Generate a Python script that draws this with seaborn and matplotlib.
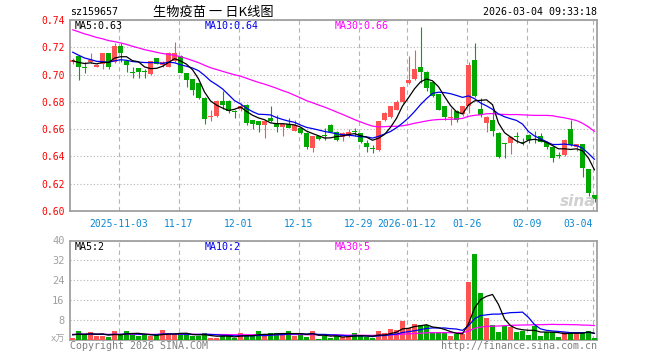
import numpy as np
import pandas as pd
import matplotlib
matplotlib.use("Agg")
import matplotlib.pyplot as plt
import matplotlib.transforms as mtransforms
import seaborn as sns

# ---------------- data ----------------
symbol = "sz159657"
title_text = "生物疫苗 一 日K线图"
timestamp = "2026-03-04 09:33:18"

opens = [
    0.7090, 0.7133, 0.7054, 0.7089, 0.7057, 0.7077, 0.7158, 0.7089, 0.7207, 0.7101,
    0.7017, 0.7047, 0.7022, 0.7002, 0.7121, 0.7072, 0.7059, 0.7096, 0.7138, 0.7010,
    0.6965, 0.6936, 0.6830, 0.6687, 0.6694, 0.6805, 0.6805, 0.6736, 0.6748, 0.6780,
    0.6664, 0.6657, 0.6632, 0.6681, 0.6639, 0.6615, 0.6639, 0.6590, 0.6612, 0.6575,
    0.6459, 0.6550, 0.6551, 0.6632, 0.6582, 0.6540, 0.6550, 0.6584, 0.6570, 0.6496,
    0.6461, 0.6447, 0.6664, 0.6689, 0.6743, 0.6797, 0.6936, 0.6965, 0.7057, 0.7020,
    0.6946, 0.6854, 0.6768, 0.6681, 0.6736, 0.6713, 0.6768, 0.7109, 0.6751, 0.6644,
    0.6664, 0.6575, 0.6492, 0.6501, 0.6547, 0.6503, 0.6558, 0.6523, 0.6550, 0.6508,
    0.6471, 0.6404, 0.6410, 0.6600, 0.6466, 0.6490, 0.6308, 0.6117]
closes = [
    0.7106, 0.7059, 0.7050, 0.7106, 0.7072, 0.7158, 0.7059, 0.7207, 0.7158, 0.7072,
    0.7013, 0.7020, 0.7018, 0.7096, 0.7081, 0.7089, 0.7158, 0.7158, 0.7015, 0.6960,
    0.6886, 0.6825, 0.6674, 0.6690, 0.6805, 0.6780, 0.6731, 0.6723, 0.6773, 0.6644,
    0.6639, 0.6632, 0.6657, 0.6657, 0.6615, 0.6639, 0.6612, 0.6632, 0.6575, 0.6471,
    0.6550, 0.6530, 0.6548, 0.6582, 0.6521, 0.6570, 0.6582, 0.6580, 0.6508, 0.6466,
    0.6457, 0.6657, 0.6718, 0.6768, 0.6797, 0.6911, 0.6960, 0.7044, 0.7020, 0.6904,
    0.6842, 0.6743, 0.6689, 0.6689, 0.6669, 0.6768, 0.7069, 0.6842, 0.6706, 0.6689,
    0.6590, 0.6397, 0.6490, 0.6545, 0.6543, 0.6499, 0.6521, 0.6519, 0.6508, 0.6466,
    0.6385, 0.6400, 0.6521, 0.6484, 0.6489, 0.6313, 0.6130, 0.6088]
highs = [
    0.7125, 0.7137, 0.7089, 0.7158, 0.7078, 0.7160, 0.7160, 0.7232, 0.7232, 0.7105,
    0.7059, 0.7050, 0.7044, 0.7100, 0.7125, 0.7096, 0.7168, 0.7242, 0.7142, 0.7013,
    0.6968, 0.6940, 0.6833, 0.6743, 0.6810, 0.6879, 0.6810, 0.6740, 0.6788, 0.6785,
    0.6668, 0.6660, 0.6660, 0.6768, 0.6706, 0.6642, 0.6681, 0.6664, 0.6615, 0.6578,
    0.6553, 0.6553, 0.6607, 0.6636, 0.6586, 0.6582, 0.6600, 0.6607, 0.6574, 0.6521,
    0.6484, 0.6662, 0.6722, 0.6772, 0.6812, 0.6915, 0.7138, 0.7183, 0.7350, 0.7025,
    0.6950, 0.6858, 0.6772, 0.6755, 0.6740, 0.6772, 0.7089, 0.7235, 0.6830, 0.6693,
    0.6743, 0.6580, 0.6495, 0.6548, 0.6582, 0.6533, 0.6562, 0.6590, 0.6575, 0.6516,
    0.6475, 0.6434, 0.6525, 0.6669, 0.6492, 0.6493, 0.6310, 0.6120]
lows = [
    0.7075, 0.6961, 0.7015, 0.7085, 0.7052, 0.7044, 0.7044, 0.7084, 0.7089, 0.7020,
    0.6973, 0.6973, 0.6978, 0.6998, 0.7078, 0.7052, 0.7055, 0.7090, 0.7010, 0.6911,
    0.6849, 0.6820, 0.6640, 0.6657, 0.6690, 0.6748, 0.6718, 0.6681, 0.6736, 0.6632,
    0.6602, 0.6582, 0.6538, 0.6652, 0.6582, 0.6550, 0.6608, 0.6586, 0.6565, 0.6454,
    0.6434, 0.6521, 0.6521, 0.6578, 0.6516, 0.6513, 0.6546, 0.6550, 0.6496, 0.6434,
    0.6422, 0.6443, 0.6660, 0.6685, 0.6740, 0.6793, 0.6932, 0.6960, 0.6941, 0.6879,
    0.6838, 0.6738, 0.6669, 0.6632, 0.6649, 0.6699, 0.6720, 0.6838, 0.6689, 0.6582,
    0.6550, 0.6385, 0.6385, 0.6417, 0.6496, 0.6484, 0.6496, 0.6496, 0.6504, 0.6452,
    0.6360, 0.6385, 0.6405, 0.6480, 0.6442, 0.6250, 0.6110, 0.6068]
volumes = [
    0.9, 3.6, 2.3, 3.2, 1.6, 1.6, 1.2, 3.6, 2.4, 3.6,
    2.3, 1.5, 2.0, 1.5, 2.0, 4.0, 2.3, 2.3, 2.7, 2.3,
    1.5, 1.6, 2.7, 0.9, 0.9, 1.7, 1.7, 0.9, 2.7, 1.7,
    1.7, 3.6, 1.7, 2.7, 2.7, 2.3, 3.6, 1.6, 2.7, 1.2,
    3.6, 0.4, 1.7, 0.9, 1.7, 1.3, 1.3, 2.7, 1.6, 1.2,
    0.9, 3.6, 2.8, 4.4, 4.0, 7.6, 4.7, 6.4, 6.0, 6.0,
    3.1, 3.1, 3.1, 1.6, 2.4, 2.3, 23.3, 34.4, 18.9, 8.9,
    6.0, 3.1, 5.6, 5.1, 3.1, 3.7, 2.0, 5.6, 1.6, 3.1,
    3.3, 1.2, 3.3, 2.7, 3.1, 3.3, 3.6, 0.9]

# sessions before the visible window (estimated from where the MA lines start)
lead_in_closes = [0.749, 0.752, 0.747, 0.750, 0.745, 0.746, 0.743, 0.744, 0.741, 0.742,
                  0.738, 0.740, 0.737, 0.739, 0.735, 0.736, 0.734, 0.735,
                  0.735, 0.733, 0.728, 0.726, 0.722, 0.720, 0.718, 0.712, 0.709, 0.708, 0.711]
lead_in_volumes = [2.4, 2.1, 2.6, 2.2, 2.5, 1.9, 2.3, 2.7, 2.0, 2.4, 2.2, 2.6, 2.1, 2.3, 2.5,
                   2.0, 2.4, 2.2, 2.6, 2.3, 2.1, 2.5, 2.2, 2.4, 2.0, 2.3, 2.6, 2.2, 2.4]

date_tick_index = [8, 18, 28, 38, 48, 56, 66, 76, 87]
date_tick_labels = ["2025-11-03", "11-17", "12-01", "12-15", "12-29",
                    "2026-01-12", "01-26", "02-09", "03-04"]
price_ticks = [0.60, 0.62, 0.64, 0.66, 0.68, 0.70, 0.72, 0.74]
volume_ticks = [8, 16, 24, 32, 40]

# ---------------- style ----------------
RED = "#ff5252"
GREEN = "#00a800"
GRID = "#b4b4b4"
SPINE = "#a0a0a0"
MONO = ["DejaVu Sans Mono", "Noto Sans CJK SC"]

sns.set_style("white")
plt.rcParams["font.family"] = MONO

W, H = 660, 360
fig = plt.figure(figsize=(W / 100, H / 100), dpi=100)
L, R = 70, 597
ax = fig.add_axes([L / W, 1 - 211 / H, (R - L) / W, 191 / H])
axv = fig.add_axes([L / W, 1 - 340 / H, (R - L) / W, 99.5 / H])

o = np.array(opens); c = np.array(closes); hi = np.array(highs); lo = np.array(lows)
v = np.array(volumes)
n = len(o)
x = np.arange(n)
up = c >= o
cols = np.where(up, RED, GREEN)

def ma(lead, vals, k):
    s = pd.Series(list(lead) + list(vals))
    return s.rolling(k).mean().to_numpy()[len(lead):]

pm5, pm10, pm30 = ma(lead_in_closes, c, 5), ma(lead_in_closes, c, 10), ma(lead_in_closes, c, 30)
vm5, vm10, vm30 = ma(lead_in_volumes, v, 5), ma(lead_in_volumes, v, 10), ma(lead_in_volumes, v, 30)

# candles
ax.vlines(x, lo, hi, colors=cols, lw=0.8, zorder=3)
ax.bar(x, np.maximum(np.abs(c - o), 0.0007), bottom=np.minimum(o, c), width=0.8,
       color=cols, linewidth=0, zorder=3)

line_df = pd.DataFrame({"x": x, "ma5": pm5, "ma10": pm10, "ma30": pm30,
                        "v5": vm5, "v10": vm10, "v30": vm30})
sns.lineplot(data=line_df, x="x", y="ma30", color="#ff00ff", lw=0.9, ax=ax, zorder=4)
sns.lineplot(data=line_df, x="x", y="ma10", color="#0000ee", lw=0.9, ax=ax, zorder=4)
sns.lineplot(data=line_df, x="x", y="ma5", color="black", lw=0.9, ax=ax, zorder=4)

# volume bars
vdf = pd.DataFrame({"x": x, "vol": v, "dir": np.where(up, "up", "down")})
sns.barplot(data=vdf, x="x", y="vol", hue="dir", palette={"up": RED, "down": GREEN},
            native_scale=True, dodge=False, width=0.8, errorbar=None, legend=False,
            saturation=1, linewidth=0, ax=axv, zorder=3)
sns.lineplot(data=line_df, x="x", y="v30", color="#ff00ff", lw=0.9, ax=axv, zorder=4)
sns.lineplot(data=line_df, x="x", y="v10", color="#0000ee", lw=0.9, ax=axv, zorder=4)
sns.lineplot(data=line_df, x="x", y="v5", color="black", lw=0.9, ax=axv, zorder=4)

grid_x = [i - 0.3 for i in date_tick_index]
xlim = (-0.42, -0.42 + (R - L) / 6)
for a in (ax, axv):
    a.set_xlim(*xlim)
    a.set_xlabel(""); a.set_ylabel("")
    for sp in a.spines.values():
        sp.set_color(SPINE); sp.set_linewidth(1.3); sp.set_visible(True)
    a.set_xticks(grid_x)
    a.xaxis.grid(True, color=GRID, lw=0.8, linestyle=(0, (4, 3)))
    a.yaxis.grid(True, color=GRID, lw=0.8, linestyle=(0, (1, 2)))
    a.set_axisbelow(True)
    a.tick_params(length=0)

ax.set_ylim(0.60, 0.74)
ax.set_yticks(price_ticks)
ax.set_yticklabels([f"{t:.2f}" for t in price_ticks], color="#ff0000", fontsize=7)
ax.tick_params(axis="y", pad=4)
ax.set_xticklabels(date_tick_labels, color="#0a88d0", fontsize=7)
ax.tick_params(axis="x", pad=6)
ax.get_xticklabels()[-1].set_horizontalalignment("right")

axv.set_ylim(0, 40)
axv.set_yticks(volume_ticks)
axv.set_yticklabels([str(t) for t in volume_ticks], color="#a0a0a0", fontsize=7.5)
axv.tick_params(axis="y", pad=4)
axv.set_xticklabels([])

def ftext(px, py, s, **kw):
    fig.text(px / W, 1 - py / H, s, va="center", **kw)

ftext(70, 12, symbol, ha="left", fontsize=7.2, color="black")
ftext(213, 12, title_text, ha="center", fontsize=9.5, color="black",
      family=["Noto Sans CJK SC", "DejaVu Sans"])
ftext(597, 12, timestamp, ha="right", fontsize=7.2, color="black")

ftext(75, 26, f"MA5:{pm5[-1]:.2f}", ha="left", fontsize=7.2, color="black")
ftext(205, 26, f"MA10:{pm10[-1]:.2f}", ha="left", fontsize=7.2, color="#0000ee")
ftext(335, 26, f"MA30:{pm30[-1]:.2f}", ha="left", fontsize=7.2, color="#ff00ff")

ftext(75, 246.5, f"MA5:{int(vm5[-1])}", ha="left", fontsize=7.2, color="black")
ftext(205, 246.5, f"MA10:{int(vm10[-1])}", ha="left", fontsize=7.2, color="#0000ee")
ftext(335, 246.5, f"MA30:{int(vm30[-1])}", ha="left", fontsize=7.2, color="#ff00ff")

ftext(65, 339, "x万", ha="right", fontsize=6.5, color="#a0a0a0", family=MONO)
ftext(70, 346, "Copyright 2026 SINA.COM", ha="left", fontsize=7.2, color="#808080")
ftext(597, 346, "http://finance.sina.com.cn", ha="right", fontsize=7.2, color="#808080")

# sina watermark
ftext(578, 201, "sina", ha="center", fontsize=11, color="#d0d0d0", style="italic",
      weight="bold", family=["DejaVu Sans"])

fig.savefig("out.png", dpi=100)
